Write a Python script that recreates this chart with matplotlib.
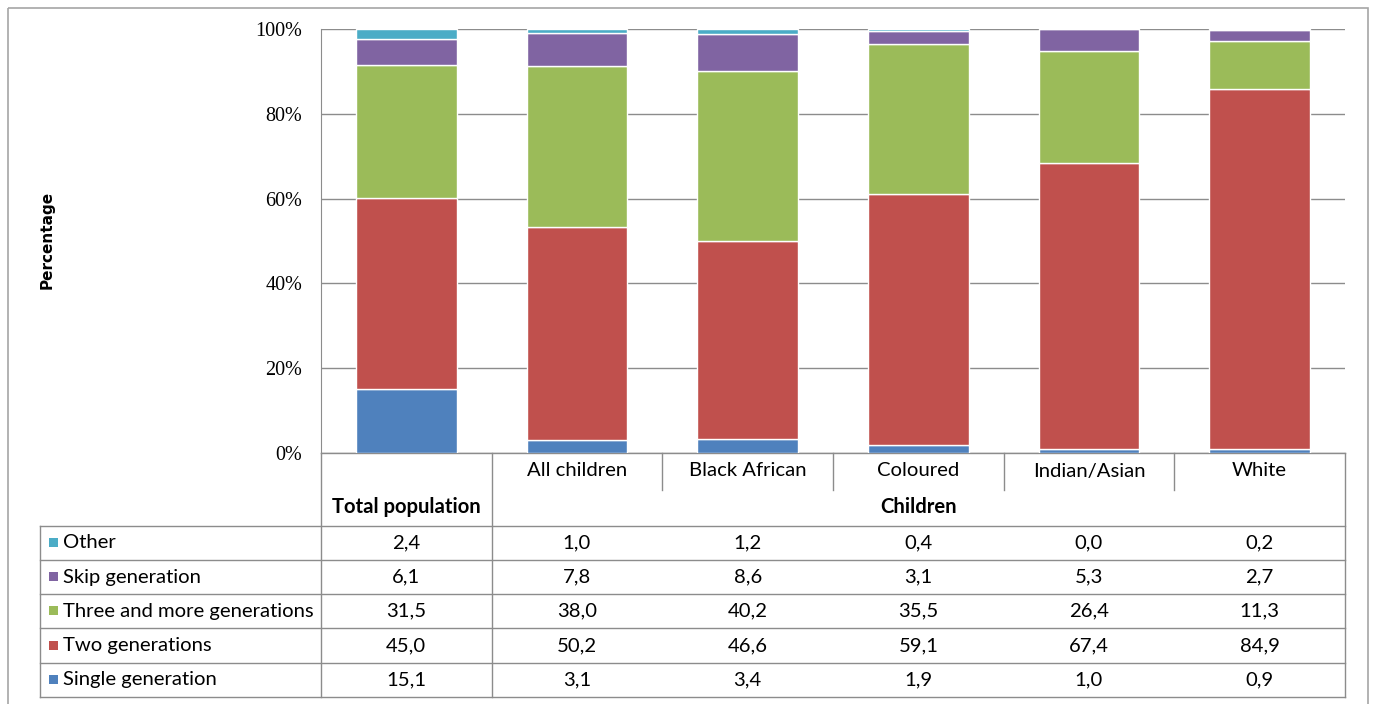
import numpy as np
import matplotlib.pyplot as plt
from matplotlib.patches import Rectangle

# household structure by population group (%)
groups = ['Total population', 'All children', 'Black African', 'Coloured', 'Indian/Asian', 'White']
series = ['Single generation', 'Two generations', 'Three and more generations', 'Skip generation', 'Other']
single = [15.1, 3.1, 3.4, 1.9, 1.0, 0.9]
two_gen = [45.0, 50.2, 46.6, 59.1, 67.4, 84.9]
three_plus = [31.5, 38.0, 40.2, 35.5, 26.4, 11.3]
skip = [6.1, 7.8, 8.6, 3.1, 5.3, 2.7]
other = [2.4, 1.0, 1.2, 0.4, 0.0, 0.2]
colors = ['#4F81BD', '#C0504D', '#9BBB59', '#8064A2', '#4BACC6']

W, H = 1375, 704
fig = plt.figure(figsize=(W / 100, H / 100), dpi=100)

# pixel layout
px_left, px_right = 321, 1345
px_top, px_bottom = 29, 453

# overlay axes in pixel units for frame and table
bg = fig.add_axes([0, 0, 1, 1])
bg.set_xlim(0, W)
bg.set_ylim(H, 0)
bg.axis('off')

ax = fig.add_axes([px_left / W, 1 - px_bottom / H, (px_right - px_left) / W, (px_bottom - px_top) / H])

data = np.array([single, two_gen, three_plus, skip, other])
pct = data / data.sum(axis=0) * 100  # 100% stacked
x = np.arange(len(groups))
bottom = np.zeros(len(groups))
for vals, col, name in zip(pct, colors, series):
    ax.bar(x, vals, bottom=bottom, width=0.59, color=col, edgecolor='white', linewidth=1.0, label=name, zorder=3)
    bottom += vals

ax.set_xlim(-0.5, len(groups) - 0.5)
ax.set_ylim(0, 100)
ax.set_yticks([0, 20, 40, 60, 80, 100])
ax.set_yticklabels(['0%', '20%', '40%', '60%', '80%', '100%'], family='Liberation Serif', fontsize=14.5)
ax.set_xticks([])
ax.tick_params(axis='y', length=0, pad=13.5)
ax.grid(axis='y', color='#8c8c8c', linewidth=1.0, zorder=0)
for s in ['top', 'right', 'bottom']:
    ax.spines[s].set_visible(False)
ax.spines['left'].set_color('#8c8c8c')
ax.patch.set_alpha(0)

fig.text(47 / W, 1 - 240 / H, 'Percentage', rotation=90, ha='center', va='center',
         fontsize=11, fontweight='bold')

# outer frame
bg.add_patch(Rectangle((8, 8), 1360, 720, fill=False, edgecolor='#a6a6a6', linewidth=1.2))

# data table
line_c = '#8c8c8c'
col_w = (px_right - px_left) / len(groups)
col_edges = [px_left + i * col_w for i in range(len(groups) + 1)]
row_edges = [526, 560, 594, 628, 663, 697]
tbl_left = 40
tfont = dict(family='Lato', fontsize=14.6)

bg.plot([px_right, px_right], [px_bottom, row_edges[-1]], color=line_c, lw=1)
bg.plot([px_left, px_left], [px_bottom, row_edges[-1]], color=line_c, lw=1)
bg.plot([px_left, px_right], [px_bottom, px_bottom], color=line_c, lw=1)
bg.plot([tbl_left, tbl_left], [row_edges[0], row_edges[-1]], color=line_c, lw=1)
for y in row_edges:
    bg.plot([tbl_left, px_right], [y, y], color=line_c, lw=1)
for i, xe in enumerate(col_edges[1:-1]):
    yend = row_edges[-1] if i == 0 else 490
    bg.plot([xe, xe], [px_bottom, yend], color=line_c, lw=1)

# header labels
for i, g in enumerate(groups[1:], start=1):
    bg.text((col_edges[i] + col_edges[i + 1]) / 2, 471, g, ha='center', va='center', **tfont)
bg.text((col_edges[0] + col_edges[1]) / 2, 507, groups[0], ha='center', va='center', fontweight='bold', **tfont)
bg.text((col_edges[1] + col_edges[-1]) / 2, 507, 'Children', ha='center', va='center', fontweight='bold', **tfont)

# body rows: top row is the last series
for r, idx in enumerate(range(len(series) - 1, -1, -1)):
    yc = (row_edges[r] + row_edges[r + 1]) / 2
    bg.add_patch(Rectangle((49, yc - 5), 9, 9, color=colors[idx], lw=0))
    bg.text(63, yc, series[idx], ha='left', va='center', **tfont)
    for c in range(len(groups)):
        txt = f'{data[idx, c]:.1f}'.replace('.', ',')
        bg.text((col_edges[c] + col_edges[c + 1]) / 2, yc, txt, ha='center', va='center', **tfont)

fig.savefig('out.png', dpi=100)
